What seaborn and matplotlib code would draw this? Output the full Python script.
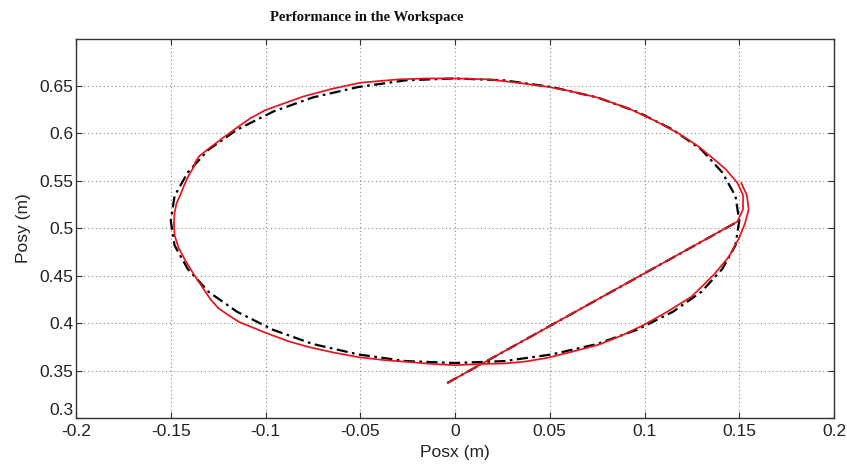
import matplotlib
matplotlib.use("Agg")
import matplotlib.pyplot as plt
import seaborn as sns
import pandas as pd

# Reference (desired) trajectory: start point, straight approach, then circular loop
ref_x = [-0.004, 0.150, 0.148, 0.141, 0.130, 0.115, 0.096, 0.075, 0.051, 0.026, 0.000,
         -0.026, -0.051, -0.075, -0.096, -0.115, -0.130, -0.141, -0.148, -0.150,
         -0.148, -0.141, -0.130, -0.115, -0.096, -0.075, -0.051, -0.026, 0.000,
         0.026, 0.051, 0.075, 0.096, 0.115, 0.130, 0.141, 0.148, 0.150]
ref_y = [0.337, 0.508, 0.534, 0.559, 0.583, 0.604, 0.623, 0.638, 0.649, 0.656, 0.658,
         0.656, 0.649, 0.638, 0.623, 0.604, 0.583, 0.559, 0.534, 0.508,
         0.482, 0.457, 0.433, 0.412, 0.393, 0.378, 0.367, 0.360, 0.358,
         0.360, 0.367, 0.378, 0.393, 0.412, 0.433, 0.457, 0.482, 0.508]

# Actual (measured) trajectory
act_x = [-0.004, 0.149, 0.152, 0.152, 0.149, 0.143, 0.136, 0.128, 0.118, 0.106, 0.092,
         0.075, 0.060, 0.0495, 0.035, 0.018, 0.000, -0.015, -0.030, -0.050, -0.065,
         -0.080, -0.100, -0.108, -0.1156, -0.122, -0.130, -0.135, -0.137, -0.138,
         -0.1405, -0.143, -0.145, -0.147, -0.148, -0.1483, -0.148, -0.146, -0.142,
         -0.138, -0.134, -0.129, -0.125, -0.120, -0.1137, -0.0995, -0.088, -0.077,
         -0.064, -0.0505, -0.037, -0.024, -0.012, 0.000, 0.014, 0.026, 0.037, 0.049,
         0.062, 0.0758, 0.088, 0.0995, 0.112, 0.1247, 0.131, 0.137, 0.1445, 0.150,
         0.153, 0.155, 0.154, 0.151]
act_y = [0.337, 0.507, 0.520, 0.535, 0.548, 0.562, 0.574, 0.587, 0.600, 0.613, 0.626,
         0.638, 0.645, 0.649, 0.653, 0.657, 0.658, 0.658, 0.657, 0.6535, 0.647,
         0.639, 0.6247, 0.616, 0.6054, 0.596, 0.584, 0.576, 0.570, 0.564,
         0.556, 0.545, 0.535, 0.526, 0.516, 0.505, 0.493, 0.480, 0.465,
         0.452, 0.440, 0.425, 0.416, 0.409, 0.401, 0.3895, 0.381, 0.3747,
         0.369, 0.364, 0.361, 0.359, 0.357, 0.3557, 0.357, 0.3575, 0.3595, 0.3635,
         0.370, 0.3773, 0.387, 0.398, 0.412, 0.4278, 0.440, 0.452, 0.470, 0.490,
         0.505, 0.520, 0.535, 0.548]

x_ticks = [-0.2, -0.15, -0.1, -0.05, 0, 0.05, 0.1, 0.15, 0.2]
x_tick_labels = ["-0.2", "-0.15", "-0.1", "-0.05", "0", "0.05", "0.1", "0.15", "0.2"]
y_ticks = [0.3, 0.35, 0.4, 0.45, 0.5, 0.55, 0.6, 0.65]
y_tick_labels = ["0.3", "0.35", "0.4", "0.45", "0.5", "0.55", "0.6", "0.65"]

sns.set_theme(style="white")
plt.rcParams['font.family'] = ['Liberation Sans', 'DejaVu Sans']

fig = plt.figure(figsize=(8.47, 4.66), dpi=100)
ax = fig.add_axes([76 / 847, 1 - 418 / 466, (834 - 76) / 847, (418 - 38.6) / 466])

ref_df = pd.DataFrame({"x": ref_x, "y": ref_y})
act_df = pd.DataFrame({"x": act_x, "y": act_y})

sns.lineplot(data=ref_df, x="x", y="y", sort=False, estimator=None, ax=ax,
             color="black", linewidth=1.6, linestyle=(0, (5, 2, 1.2, 2)), zorder=3)
sns.lineplot(data=act_df, x="x", y="y", sort=False, estimator=None, ax=ax,
             color="#e8141b", linewidth=1.25, zorder=4)

ax.set_xlim(-0.2, 0.2)
ax.set_ylim(0.3, 0.7)
ax.set_xticks(x_ticks)
ax.set_xticklabels(x_tick_labels)
ax.set_yticks(y_ticks)
ax.set_yticklabels(y_tick_labels)

ax.grid(True, linestyle=(0, (1, 2.5)), color="#8a8a8a", linewidth=0.8)
for s in ax.spines.values():
    s.set_visible(True)
    s.set_color("#333333")
    s.set_linewidth(1.0)
ax.tick_params(direction="in", length=4, width=0.8, colors="#333333",
               labelcolor="#222222", labelsize=12.5, top=True, right=True,
               bottom=True, left=True, pad=2)
ax.tick_params(axis="x", pad=4)
ax.get_yticklabels()[0].set_va("bottom")

ax.set_xlabel("Posx (m)", fontsize=12.5, color="#222222", labelpad=5)
ax.set_ylabel("Posy (m)", fontsize=12.5, color="#222222", labelpad=6)

fig.text(367 / 847, 1 - 18 / 466, "Performance in the Workspace",
         ha="center", va="center", fontsize=10.5, fontweight="bold",
         family=["Liberation Serif", "DejaVu Serif"], color="#111111")

fig.savefig("out.png", dpi=100, facecolor="white")
